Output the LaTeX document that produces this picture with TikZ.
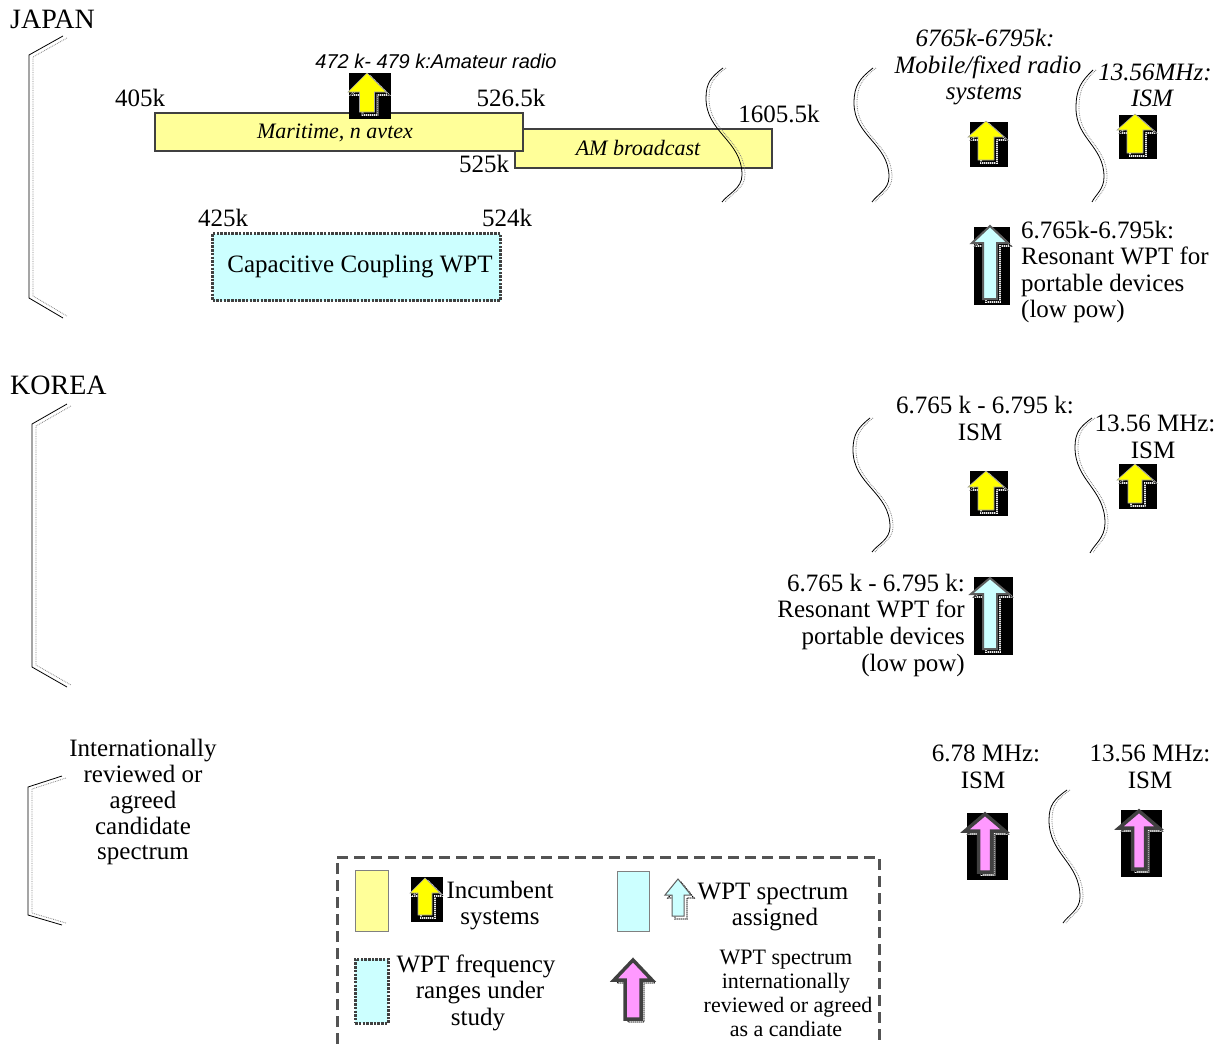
\documentclass[tikz,border=0pt]{standalone}
\usepackage{fontspec}
\setmainfont{Liberation Serif}[ItalicFont={Liberation Serif Italic}]
\newfontfamily\sansfam{Liberation Sans}
\definecolor{baryellow}{HTML}{FFFF99}
\definecolor{arryellow}{HTML}{FFFF00}
\definecolor{wptcyan}{HTML}{CCFFFF}
\definecolor{wptpink}{HTML}{FF99FF}
\definecolor{edgegray}{HTML}{404040}
\newcommand\fsz[1]{\fontsize{#1}{#1}\selectfont}
% arrow: #1 style, #2 tipx, #3 tipy, #4 head half width, #5 head height, #6 shaft half width, #7 bottom y
\newcommand\uparr[7]{%
  \draw[white,line width=1.6pt,xshift=3pt,yshift=-3pt] (#2,#3) -- ({#2+#4},{#3+#5}) -- ({#2+#6},{#3+#5}) -- ({#2+#6},#7) -- ({#2-#6},#7) -- ({#2-#6},{#3+#5}) -- ({#2-#4},{#3+#5}) -- cycle;
  \draw[black,line width=1.2pt,dash pattern=on 1pt off 1pt,xshift=3pt,yshift=-3pt] (#2,#3) -- ({#2+#4},{#3+#5}) -- ({#2+#6},{#3+#5}) -- ({#2+#6},#7) -- ({#2-#6},#7) -- ({#2-#6},{#3+#5}) -- ({#2-#4},{#3+#5}) -- cycle;
  \draw[#1] (#2,#3) -- ({#2+#4},{#3+#5}) -- ({#2+#6},{#3+#5}) -- ({#2+#6},#7) -- ({#2-#6},#7) -- ({#2-#6},{#3+#5}) -- ({#2-#4},{#3+#5}) -- cycle;}
% wave break: T, L, R, B
\newcommand\wavebreak[8]{%
  \foreach \sh/\sty in {0pt/brk,3pt/brkdot}{
  \draw[\sty,xshift=\sh] (#1,#2) .. controls ({#3+(#1-#3)*0.3},{#2+(#4-#2)*0.3}) and (#3,{#4-(#4-#2)*0.5}) .. (#3,#4)
    .. controls (#3,{#4+(#6-#4)*0.45}) and (#5,{#6-(#6-#4)*0.45}) .. (#5,#6)
    .. controls (#5,{#6+(#8-#6)*0.5}) and ({#7+(#5-#7)*0.3},{#8-(#8-#6)*0.3}) .. (#7,#8);}}
\begin{document}
\begin{tikzpicture}[x=1pt,y=-1pt,
  txt/.style={inner sep=0pt,anchor=base,font=\fsz{25}},
  txtit/.style={inner sep=0pt,anchor=base,font=\fsz{25}\itshape},
  barit/.style={inner sep=0pt,anchor=base,font=\fsz{22}\itshape},
  smalltxt/.style={inner sep=0pt,anchor=base,font=\fsz{22}},
  title/.style={inner sep=0pt,anchor=base west,font=\fsz{28}},
  bar/.style={draw=edgegray,line width=2pt,fill=baryellow,inner sep=0pt,anchor=north west},
  studybox/.style={draw=edgegray,line width=3pt,dash pattern=on 2.5pt off 1.2pt,fill=wptcyan,inner sep=0pt,anchor=north west},
  brk/.style={line width=0.8pt,black},
  brkdot/.style={line width=0.8pt,gray,densely dotted},
  yarr/.style={fill=arryellow,draw=gray!70,line width=0.6pt},
  carr/.style={fill=wptcyan,draw=edgegray!85,line width=2pt},
  parr/.style={fill=wptpink,draw=edgegray,line width=3.5pt},
  blackbox/.style={fill=black}]
\useasboundingbox (0,0) rectangle (1221,1044);

% ---------------- JAPAN ----------------
\node[title] (japan) at (10,28) {JAPAN};
\draw[brk] (63,36) -- (29,55) -- (29,298) -- (63,318);
\draw[brkdot] (67,38) -- (33,57) -- (33,296) -- (67,316);

\node[bar,minimum width=257pt,minimum height=39pt] (am) at (514,128) {};
\node[bar,minimum width=368pt,minimum height=38pt] (mar) at (154,112) {};
\node[barit] (martxt) at (335,138) {Maritime, n avtex};
\node[barit] (amtxt) at (638,155) {AM broadcast};
\node[txt] (t405) at (140,106) {405k};
\node[txt] (t5265) at (511,106) {526.5k};
\node[txt] (t525) at (484,172) {525k};
\node[txt] (t1605) at (779,122) {1605.5k};

\fill[blackbox] (349,73) rectangle (391,119);
\uparr{yarr}{367}{73}{19}{19}{7.5}{112}
\node[inner sep=0pt,anchor=base,font=\fsz{20}\sansfam\itshape] (amateur) at (436,68) {472 k- 479 k:Amateur radio};

\node[studybox,minimum width=288pt,minimum height=67pt] (cap) at (211,232) {};
\node[txt] (capt) at (360,272) {Capacitive Coupling WPT};
\node[txt] (t425) at (223,226) {425k};
\node[txt] (t524) at (507,226) {524k};

\wavebreak{723}{68}{706}{98}{742}{175}{722}{202}
\wavebreak{873}{68}{854}{103}{889}{177}{872}{202}
\wavebreak{1093}{70}{1076}{108}{1104}{177}{1092}{202}

\node[txtit] (j1a) at (985,46) {6765k-6795k:};
\node[txtit] (j1b) at (988,73) {Mobile/fixed radio};
\node[txtit] (j1c) at (984,99) {systems};
\fill[blackbox] (970,122) rectangle (1008,167);
\uparr{yarr}{986}{121}{18}{16}{8}{160}

\node[txtit] (j2a) at (1155,80) {13.56MHz:};
\node[txtit] (j2b) at (1152,106) {ISM};
\fill[blackbox] (1119,115) rectangle (1157,159);
\uparr{yarr}{1135}{114}{18}{16}{8}{153}

\fill[blackbox] (974,227) rectangle (1010,305);
\uparr{carr}{990}{226}{18}{17}{7}{299}
\node[txt,anchor=base west] (j3a) at (1021,238) {6.765k-6.795k:};
\node[txt,anchor=base west] (j3b) at (1021,264) {Resonant WPT for};
\node[txt,anchor=base west] (j3c) at (1021,291) {portable devices};
\node[txt,anchor=base west] (j3d) at (1021,317) {(low pow)};

% ---------------- KOREA ----------------
\node[title] (korea) at (10,394) {KOREA};
\draw[brk] (67,404) -- (32,424) -- (32,667) -- (67,687);
\draw[brkdot] (71,406) -- (36,426) -- (36,665) -- (71,685);

\wavebreak{870}{418}{853}{450}{890}{527}{872}{552}
\wavebreak{1092}{418}{1075}{447}{1105}{523}{1090}{553}

\node[txt] (k1a) at (985,413) {6.765 k - 6.795 k:};
\node[txt] (k1b) at (980,440) {ISM};
\fill[blackbox] (970,471) rectangle (1008,516);
\uparr{yarr}{986}{471}{18}{16}{8}{510}

\node[txt] (k2a) at (1155,431) {13.56 MHz:};
\node[txt] (k2b) at (1153,458) {ISM};
\fill[blackbox] (1119,464) rectangle (1157,509);
\uparr{yarr}{1135}{464}{18}{16}{7}{503}

\fill[blackbox] (974,577) rectangle (1013,655);
\uparr{carr}{990}{578}{19}{16}{7}{649}
\node[txt,anchor=base east] (k3a) at (965,591) {6.765 k - 6.795 k:};
\node[txt,anchor=base east] (k3b) at (965,617) {Resonant WPT for};
\node[txt,anchor=base east] (k3c) at (965,644) {portable devices};
\node[txt,anchor=base east] (k3d) at (965,671) {(low pow)};

% ---------------- INTERNATIONAL ----------------
\draw[brk] (62,776) -- (28,787) -- (28,915) -- (62,925);
\draw[brkdot] (66,778) -- (32,789) -- (32,913) -- (66,923);
\node[txt] (i1) at (143,756) {Internationally};
\node[txt] (i2) at (143,782) {reviewed or};
\node[txt] (i3) at (143,808) {agreed};
\node[txt] (i4) at (143,834) {candidate};
\node[txt] (i5) at (143,859) {spectrum};

\wavebreak{1067}{790}{1049}{820}{1080}{897}{1063}{923}

\node[txt] (p1a) at (986,761) {6.78 MHz:};
\node[txt] (p1b) at (983,788) {ISM};
\fill[blackbox] (967,813) rectangle (1008,880);
\uparr{parr}{985}{814}{20}{17}{6.5}{872}

\node[txt] (p2a) at (1150,761) {13.56 MHz:};
\node[txt] (p2b) at (1150,788) {ISM};
\fill[blackbox] (1121,810) rectangle (1162,877);
\uparr{parr}{1139}{811}{20}{17}{6.5}{869}

% ---------------- LEGEND ----------------
\draw[edgegray!90,line width=3pt,dash pattern=on 11pt off 6pt] (337,1044) -- (337,857) -- (879,857) -- (879,1044);

\node[draw=gray,line width=1.2pt,fill=baryellow,minimum width=33pt,minimum height=61pt,inner sep=0pt,anchor=north west] (legy) at (355,870) {};
\fill[blackbox] (411,877) rectangle (443,922);
\uparr{yarr}{425}{878}{15}{15}{7}{915}
\node[txt] (lg1a) at (500,898) {Incumbent};
\node[txt] (lg1b) at (500,924) {systems};

\node[draw=gray,line width=1.2pt,fill=wptcyan,minimum width=32pt,minimum height=60pt,inner sep=0pt,anchor=north west] (legc) at (617,871) {};
\uparr{carr,line width=1pt}{678}{879}{13}{16}{6}{916}
\node[txt] (lg2a) at (773,899) {WPT spectrum};
\node[txt] (lg2b) at (775,925) {assigned};

\node[studybox,line width=2.5pt,minimum width=33pt,minimum height=64pt] (legs) at (354,958) {};
\node[txt] (lg3a) at (476,972) {WPT frequency};
\node[txt] (lg3b) at (480,998) {ranges under};
\node[txt] (lg3c) at (478,1025) {study};

\uparr{parr}{633}{960}{19}{20}{8}{1019}
\node[smalltxt] (lg4a) at (786,964) {WPT spectrum};
\node[smalltxt] (lg4b) at (786,988) {internationally};
\node[smalltxt] (lg4c) at (788,1012) {reviewed or agreed};
\node[smalltxt] (lg4d) at (786,1036) {as a candiate};
\end{tikzpicture}
\end{document}
